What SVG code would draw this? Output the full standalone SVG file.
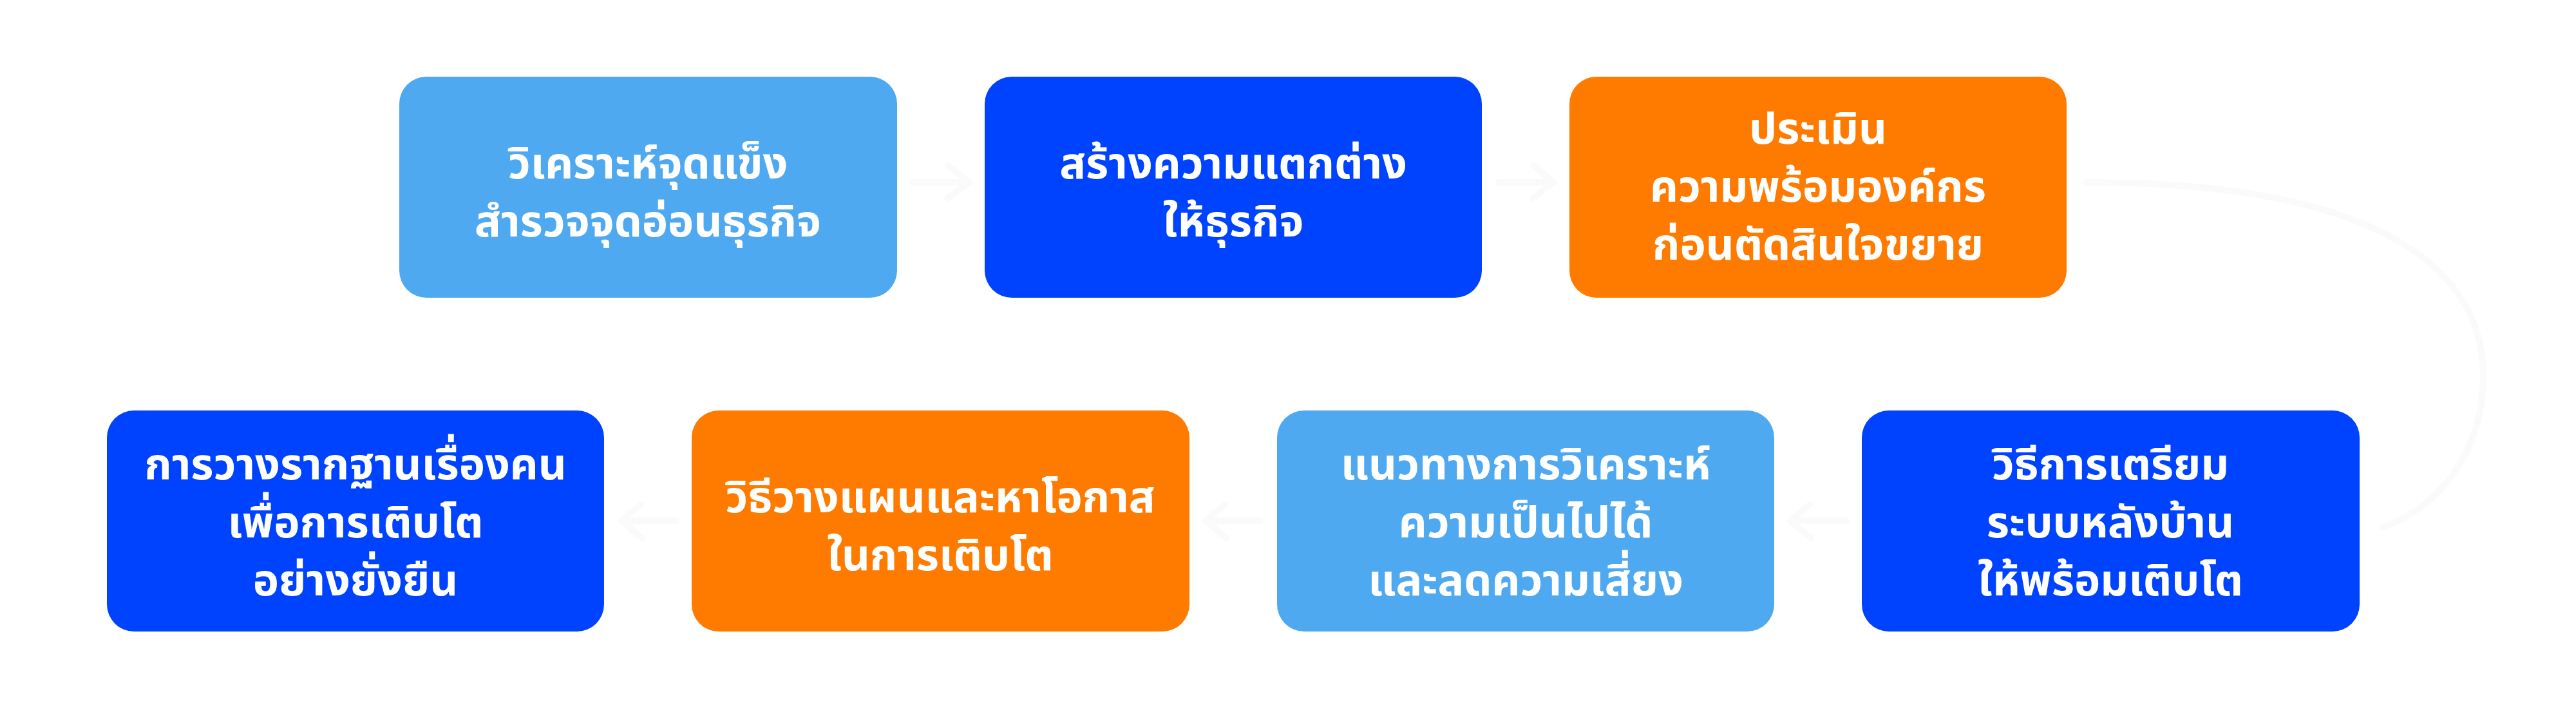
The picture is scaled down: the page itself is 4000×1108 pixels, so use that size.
<svg xmlns="http://www.w3.org/2000/svg" width="4000" height="1108" viewBox="0 0 4000 1108">
<style>
.box{stroke:none}
.lb{fill:#4FA9F0}
.bl{fill:#0043FF}
.or{fill:#FF7B00}
.t{font-family:"Noto Sans Thai","Noto Sans","Liberation Sans",sans-serif;font-weight:700;font-size:68px;fill:#FFFFFF;text-anchor:middle}
.c{fill:none;stroke:#FAFAFA;stroke-width:10;stroke-linecap:round;stroke-linejoin:round}
</style>
<rect width="4000" height="1108" fill="#FFFFFF"/>
<g id="connectors">
<path class="c" d="M1417 283 H1505 M1473 257 L1505 283 L1471 308"/>
<path class="c" d="M2327 283 H2412 M2382 257 L2412 283 L2380 308"/>
<path class="c" d="M3240 283 C3700 283 3860 420 3856 590 C3852 720 3770 795 3700 818"/>
<path class="c" d="M1050 808 H965 M995 783 L965 808 L997 835"/>
<path class="c" d="M1957 808 H1872 M1902 783 L1872 808 L1904 835"/>
<path class="c" d="M2867 808 H2780 M2810 783 L2780 808 L2812 835"/>
</g>
<g id="n1"><rect class="box lb" x="620" y="119" width="773" height="343" rx="42"/>
<text class="t" x="1006" y="277">วิเคราะห์จุดแข็ง</text><text class="t" x="1006" y="367">สำรวจจุดอ่อนธุรกิจ</text></g>
<g id="n2"><rect class="box bl" x="1529" y="119" width="772" height="343" rx="42"/>
<text class="t" x="1915" y="277">สร้างความแตกต่าง</text><text class="t" x="1915" y="367">ให้ธุรกิจ</text></g>
<g id="n3"><rect class="box or" x="2437" y="119" width="772" height="343" rx="42"/>
<text class="t" x="2823" y="223">ประเมิน</text><text class="t" x="2823" y="313">ความพร้อมองค์กร</text><text class="t" x="2823" y="403">ก่อนตัดสินใจขยาย</text></g>
<g id="n4"><rect class="box bl" x="166" y="637" width="772" height="343" rx="42"/>
<text class="t" x="552" y="744">การวางรากฐานเรื่องคน</text><text class="t" x="552" y="834">เพื่อการเติบโต</text><text class="t" x="552" y="924">อย่างยั่งยืน</text></g>
<g id="n5"><rect class="box or" x="1074" y="637" width="773" height="343" rx="42"/>
<text class="t" x="1460" y="795">วิธีวางแผนและหาโอกาส</text><text class="t" x="1460" y="885">ในการเติบโต</text></g>
<g id="n6"><rect class="box lb" x="1983" y="637" width="772" height="343" rx="42"/>
<text class="t" x="2369" y="744">แนวทางการวิเคราะห์</text><text class="t" x="2369" y="834">ความเป็นไปได้</text><text class="t" x="2369" y="924">และลดความเสี่ยง</text></g>
<g id="n7"><rect class="box bl" x="2891" y="637" width="773" height="343" rx="42"/>
<text class="t" x="3277" y="744">วิธีการเตรียม</text><text class="t" x="3277" y="834">ระบบหลังบ้าน</text><text class="t" x="3277" y="924">ให้พร้อมเติบโต</text></g>
</svg>
